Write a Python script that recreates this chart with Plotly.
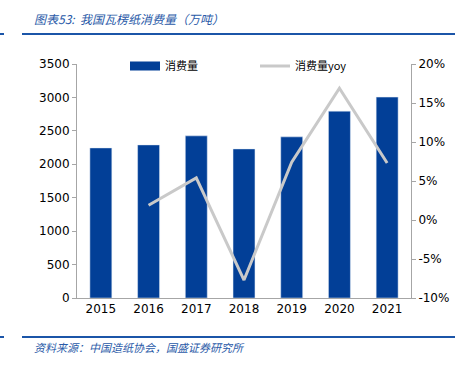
import plotly.graph_objects as go

years = ["2015", "2016", "2017", "2018", "2019", "2020", "2021"]
consumption = [2245, 2290, 2425, 2230, 2410, 2795, 3005]
yoy_years = ["2016", "2017", "2018", "2019", "2020", "2021"]
yoy = [1.9, 5.4, -7.7, 7.4, 16.9, 7.3]

left_ticks = [0, 500, 1000, 1500, 2000, 2500, 3000, 3500]
right_ticks = [-10, -5, 0, 5, 10, 15, 20]

BLUE = "#023f97"
GRAY = "#c9c9c9"
AXIS = "#a6a6a6"
FONT = "DejaVu Sans, Verdana, sans-serif"
CJK = "Noto Sans CJK SC"

L, R, T, B = 77, 50, 64, 70
PW, PH = 461 - L - R, 368 - T - B


def px_x(x):
    return (x - L) / PW


def px_y(y):
    return (368 - B - y) / PH


fig = go.Figure()
fig.add_trace(go.Bar(x=years, y=consumption, name="消费量", marker_color=BLUE,
                     width=0.46, yaxis="y", showlegend=False))
# legend proxy for the bar series (wide rectangle swatch)
fig.add_trace(go.Scatter(x=[None], y=[None], name="消费量", mode="lines",
                         line=dict(color=BLUE, width=9), yaxis="y", legend="legend"))
fig.add_trace(go.Scatter(x=yoy_years, y=yoy, name="消费量yoy", mode="lines",
                         line=dict(color=GRAY, width=3), yaxis="y2", legend="legend2"))

leg_common = dict(orientation="h", yanchor="middle", xanchor="left",
                  bgcolor="rgba(0,0,0,0)", font=dict(family=CJK, size=11))

fig.update_layout(
    width=461, height=368,
    margin=dict(l=L, r=R, t=T, b=B),
    plot_bgcolor="white", paper_bgcolor="white",
    font=dict(family=FONT, size=12, color="#000000"),
    showlegend=True,
    legend=dict(x=px_x(125), y=px_y(66), **leg_common),
    legend2=dict(x=px_x(255), y=px_y(66), **leg_common),
    xaxis=dict(type="category", showline=True, linecolor=AXIS, linewidth=1,
               ticks="", showgrid=False, tickfont=dict(size=12, family=FONT)),
    yaxis=dict(range=[0, 3500], tickvals=left_ticks, showline=True, linecolor=AXIS,
               ticks="outside", ticklen=4, tickcolor=AXIS, showgrid=False,
               zeroline=False, tickfont=dict(size=12, family=FONT)),
    yaxis2=dict(range=[-10, 20], tickvals=right_ticks,
                ticktext=[f"{v}%" for v in right_ticks], overlaying="y", side="right",
                showline=True, linecolor=AXIS, ticks="outside", ticklen=4,
                tickcolor=AXIS, showgrid=False, zeroline=False,
                tickfont=dict(size=12, family=FONT)),
    bargap=0.5,
)

fig.add_annotation(text="<i>图表53:  我国瓦楞纸消费量（万吨）</i>", xref="paper", yref="paper",
                   x=px_x(32), y=px_y(18), xanchor="left", yanchor="middle",
                   showarrow=False, font=dict(family=CJK, size=12, color="#2a5aa8"))
fig.add_annotation(text="<i>资料来源：中国造纸协会，国盛证券研究所</i>", xref="paper", yref="paper",
                   x=px_x(32), y=px_y(347), xanchor="left", yanchor="middle",
                   showarrow=False, font=dict(family=CJK, size=11, color="#2a5aa8"))

# header / footer rules
for y in (34, 337):
    fig.add_shape(type="line", xref="paper", yref="paper",
                  x0=px_x(22), x1=px_x(455), y0=px_y(y), y1=px_y(y),
                  line=dict(color="#1b55a8", width=2))
    fig.add_shape(type="line", xref="paper", yref="paper",
                  x0=px_x(0), x1=px_x(4), y0=px_y(y), y1=px_y(y),
                  line=dict(color="#1b55a8", width=2))

fig.write_html("out.html", config={"displayModeBar": False},
               post_script="document.body.style.margin='0';document.body.style.overflow='hidden';")
